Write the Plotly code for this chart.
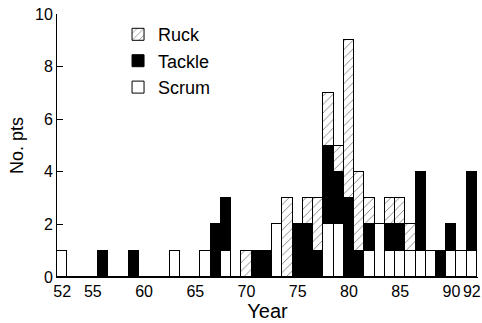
import plotly.graph_objects as go

years = list(range(1952, 1993))
scrum_d = {1952: 1, 1963: 1, 1966: 1, 1968: 1, 1973: 2, 1978: 2, 1979: 2, 1982: 1, 1983: 2,
           1984: 1, 1985: 1, 1986: 1, 1987: 1, 1988: 1, 1990: 1, 1991: 1, 1992: 1}
tackle_d = {1956: 1, 1959: 1, 1967: 2, 1968: 2, 1971: 1, 1972: 1, 1975: 2, 1976: 2, 1977: 1,
            1978: 3, 1979: 2, 1980: 3, 1981: 1, 1982: 1, 1984: 1, 1985: 1, 1987: 3, 1989: 1,
            1990: 1, 1992: 3}
ruck_d = {1970: 1, 1974: 3, 1976: 1, 1977: 2, 1978: 2, 1979: 1, 1980: 6, 1981: 3, 1982: 1,
          1984: 1, 1985: 1, 1986: 1}

scrum = [scrum_d.get(y, 0) for y in years]
tackle = [tackle_d.get(y, 0) for y in years]
ruck = [ruck_d.get(y, 0) for y in years]

tick_vals = [1952, 1955, 1960, 1965, 1970, 1975, 1980, 1985, 1990, 1992]
tick_text = ["52", "55", "60", "65", "70", "75", "80", "85", "90", "92"]

font = "Liberation Sans, Arial, sans-serif"

fig = go.Figure()
fig.add_trace(go.Bar(x=years, y=scrum, name="Scrum", width=1,
                     marker=dict(color="white", line=dict(color="black", width=1))))
fig.add_trace(go.Bar(x=years, y=tackle, name="Tackle", width=1,
                     marker=dict(color="black", line=dict(color="black", width=1))))
fig.add_trace(go.Bar(x=years, y=ruck, name="Ruck", width=1,
                     marker=dict(color="white", line=dict(color="black", width=1),
                                 pattern=dict(shape="/", fgcolor="black", bgcolor="white",
                                              size=6, solidity=0.15))))

fig.update_layout(
    width=482, height=323,
    barmode="stack", bargap=0,
    paper_bgcolor="white", plot_bgcolor="white",
    margin=dict(l=57, r=4, t=14, b=46),
    font=dict(family=font, size=16, color="black"),
    showlegend=True,
    legend=dict(x=0.145, y=0.992, xanchor="left", yanchor="top",
                traceorder="reversed", font=dict(size=18, family=font),
                bgcolor="rgba(0,0,0,0)", itemwidth=30),
    xaxis=dict(range=[1951.5, 1992.6], tickvals=tick_vals, ticktext=tick_text,
               showgrid=False, zeroline=False, showline=True, linecolor="black",
               linewidth=1, ticks="", tickfont=dict(size=16), tickangle=0,
               automargin=False,
               title=dict(text="Year", font=dict(size=20), standoff=2)),
    yaxis=dict(range=[0, 10], tickvals=[0, 2, 4, 6, 8, 10], showgrid=False,
               zeroline=False, showline=True, linecolor="black", linewidth=1,
               ticks="inside", ticklen=6, tickcolor="black", tickfont=dict(size=16),
               automargin=False,
               title=dict(text="No. pts", font=dict(size=18), standoff=6)),
)

fig.write_html("out.html", config={"displayModeBar": False},
               post_script="document.body.style.margin='0';document.body.style.overflow='hidden';")
